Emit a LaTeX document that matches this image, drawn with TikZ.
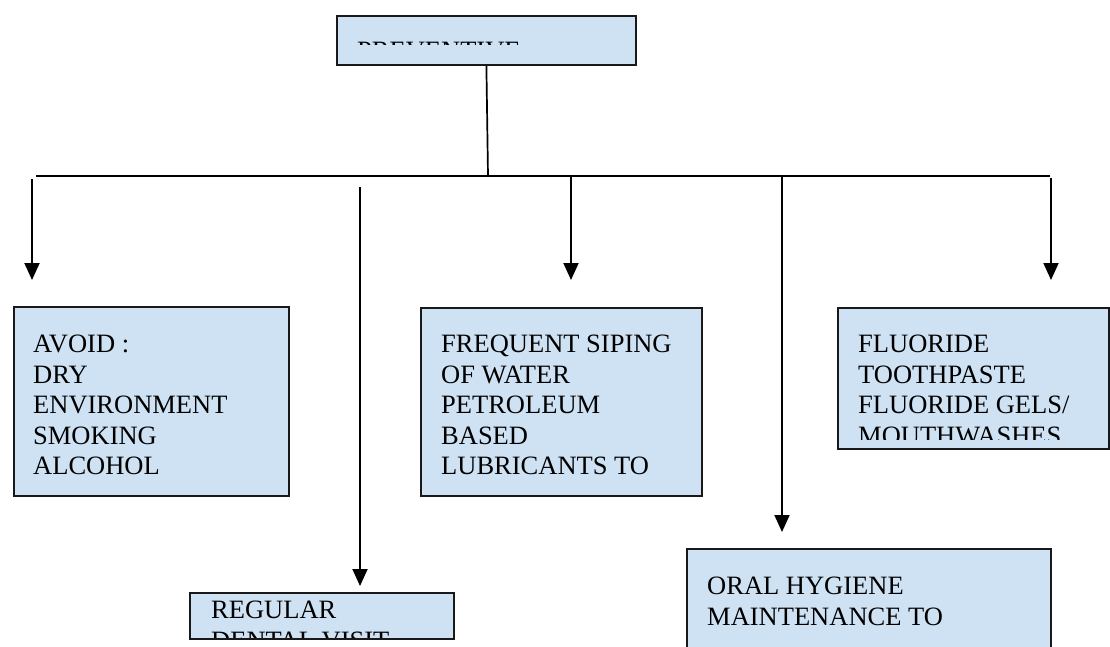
\documentclass[tikz,border=0pt]{standalone}
\usepackage{fontspec}
\setmainfont{Liberation Serif}
\usetikzlibrary{arrows.meta}
\definecolor{boxblue}{RGB}{207,226,243}
\tikzset{
  box/.style={draw=black!90, line width=1.8pt, fill=boxblue, inner sep=0pt,
    anchor=north west},
  label/.style={anchor=north west, inner sep=0pt, align=left,
    font=\fontsize{26.5pt}{30.5pt}\selectfont},
  link/.style={line width=1.7pt, black},
  arrowline/.style={line width=1.9pt, black, -{Triangle[width=15pt,length=17pt]}}
}
\begin{document}
\begin{tikzpicture}[x=1pt,y=-1pt]
\useasboundingbox (0,0) rectangle (1110,646);
\clip (0,0) rectangle (1110,646);

% boxes
\node[box, minimum width=299pt, minimum height=49pt] (prev) at (336,15) {};
\node[box, minimum width=275pt, minimum height=189pt] (avoid) at (13,306) {};
\node[box, minimum width=281pt, minimum height=188pt] (sip) at (420,307) {};
\node[box, minimum width=271pt, minimum height=141pt] (fluor) at (837,307) {};
\node[box, minimum width=264pt, minimum height=46pt] (visit) at (189,592) {};
\node[box, minimum width=364pt, minimum height=120pt] (oral) at (686,548) {};

% box texts (cut off where the boxes are too small)
\begin{scope}
  \clip (336,15) rectangle (635,44.5);
  \node[label] (prevtxt) at (357,41.5) {PREVENTIVE};
\end{scope}
\node[label] (avoidtxt) at (33,335) {AVOID :\\DRY\\ENVIRONMENT\\SMOKING\\ALCOHOL};
\node[label] (siptxt) at (441,335) {FREQUENT SIPING\\OF WATER\\PETROLEUM\\BASED\\LUBRICANTS TO};
\begin{scope}
  \clip (837,307) rectangle (1108,439);
  \node[label] (fluortxt) at (858,335) {FLUORIDE\\TOOTHPASTE\\FLUORIDE GELS/\\MOUTHWASHES};
\end{scope}
\begin{scope}
  \clip (189,592) rectangle (453,637.5);
  \node[label] (visittxt) at (211,601) {REGULAR\\DENTAL VISIT};
\end{scope}
\node[label] (oraltxt) at (707,577) {ORAL HYGIENE\\MAINTENANCE TO};

% trunk and bus
\coordinate (bus) at (488,176);
\coordinate (busL) at (36,176);
\coordinate (busR) at (1050,176);
\draw[link] (prev.south) -- (bus);
\draw[link] (busL) -- (busR);

% arrows to the boxes
\coordinate (a1s) at (32,179);   \coordinate (a1e) at (32,280);
\coordinate (a2s) at (360,187);  \coordinate (a2e) at (360,586);
\coordinate (a3s) at (571,176);  \coordinate (a3e) at (571,280);
\coordinate (a4s) at (782,176);  \coordinate (a4e) at (782,532);
\coordinate (a5s) at (1051,178); \coordinate (a5e) at (1051,280);
\draw[arrowline] (a1s) -- (a1e);
\draw[arrowline] (a2s) -- (a2e);
\draw[arrowline] (a3s) -- (a3e);
\draw[arrowline] (a4s) -- (a4e);
\draw[arrowline] (a5s) -- (a5e);
\end{tikzpicture}
\end{document}
